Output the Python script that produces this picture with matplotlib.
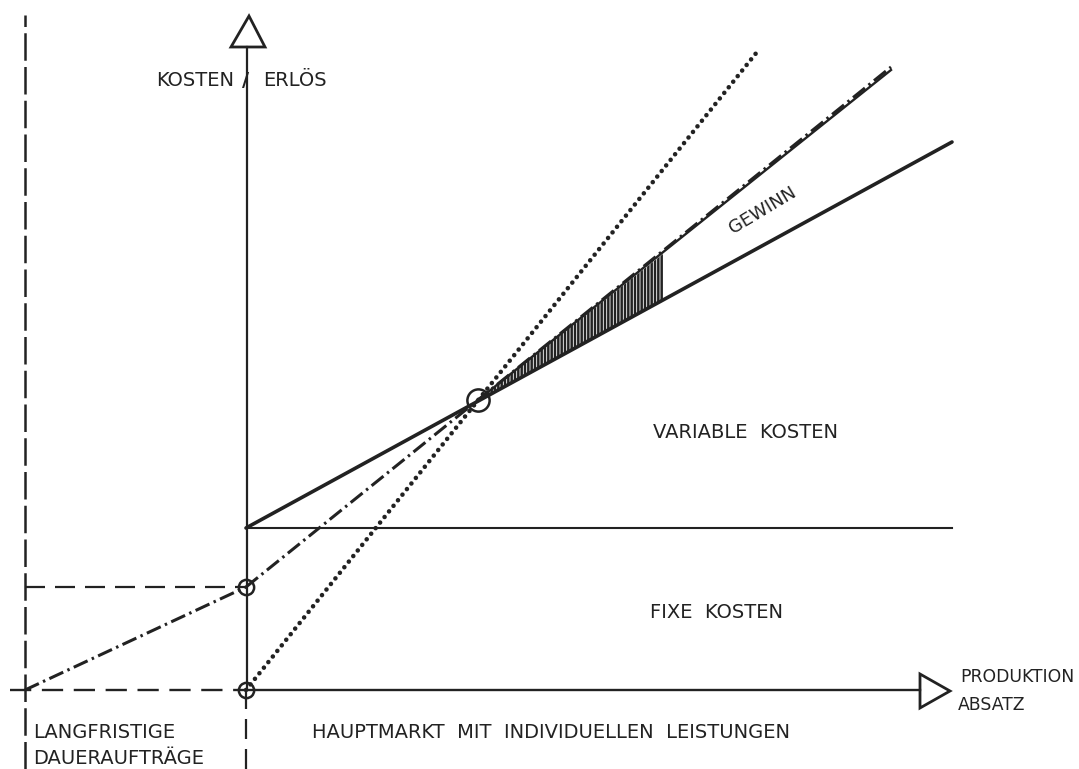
import numpy as np
import matplotlib.pyplot as plt
from matplotlib.patches import Polygon

# Zeichnungseinheiten, Ursprung = Schnittpunkt der Achsen
grenze_dauer = -221      # linke Grenze der Dauerauftraege
menge_ende = 674         # Ende der Mengenachse (Pfeilbasis)
kosten_ende = 643        # Ende der Kostenachse (Pfeilbasis)

fixkosten = 162
fix_x = [0, 706]
kosten_x = [0, 706]
kosten_y = [162, 548]

erloes_dauer_x = [-221, 0]
erloes_dauer_y = [0, 103]

erloes_haupt_x = [0, 645]
erloes_haupt_y = [103, 623]

gewinn_x = [232, 645]
gewinn_y = [290, 620]

erloes_ohne_x = [0, 511]
erloes_ohne_y = [0, 638]

break_even = (232, 290)
hatch_x = [232, 417]
hatch_unten = [290, 390]
hatch_oben = [290, 436]

ink = '#222222'
plt.rcParams['font.family'] = ['DejaVu Sans']
plt.rcParams['hatch.linewidth'] = 1.8
plt.rcParams['hatch.color'] = ink

fig = plt.figure(figsize=(10.79, 7.69), dpi=100)
ax = fig.add_axes([0, 0, 1, 1])
ax.set_xlim(-246, 833)
ax.set_ylim(-79, 690)
ax.axis('off')

# Achsen
ax.plot([1, 1], [0, kosten_ende], color=ink, lw=1.6)
ax.plot([0, 0], [-79, 0], color=ink, lw=1.6, linestyle=(0, (9, 4.5)))
ax.plot([0, menge_ende], [0, 0], color=ink, lw=1.7)
ax.plot([-236, 0], [0, 0], color=ink, lw=1.7, linestyle=(0, (9, 4.5)))
ax.plot([grenze_dauer, grenze_dauer], [-79, 675], color=ink, lw=1.8,
        linestyle=(0, (11, 2.5)))
ax.plot([grenze_dauer, 0], [erloes_dauer_y[1]] * 2, color=ink, lw=1.6,
        linestyle=(0, (9, 4.5)))

# Pfeilspitzen
ax.add_patch(Polygon([[-15, kosten_ende], [19, kosten_ende], [3, kosten_ende + 31]],
                     closed=True, fill=False, edgecolor=ink, lw=2))
ax.add_patch(Polygon([[menge_ende, 16], [menge_ende, -18], [menge_ende + 30, -1]],
                     closed=True, fill=False, edgecolor=ink, lw=2))

# Kosten
ax.plot(fix_x, [fixkosten] * 2, color=ink, lw=1.5)
ax.plot(kosten_x, kosten_y, color=ink, lw=2.6, solid_capstyle='round')

# Gewinnzone schraffiert
ax.fill_between(hatch_x, hatch_unten, hatch_oben, facecolor='white',
                edgecolor=ink, hatch='|||||', lw=0)

# Erloese
dashdot = (0, (5, 1.5, 0.8, 1.5))
ax.plot(erloes_dauer_x, erloes_dauer_y, color=ink, lw=2.2, linestyle=dashdot)
ax.plot(erloes_haupt_x, erloes_haupt_y, color=ink, lw=2.2, linestyle=dashdot)
ax.plot(gewinn_x, gewinn_y, color=ink, lw=1.7)
ax.plot(erloes_ohne_x, erloes_ohne_y, color=ink, lw=3.3,
        linestyle=(0, (0.01, 1.55)), dash_capstyle='round')

# Kreise
ax.plot([0, 0], [0, erloes_dauer_y[1]], linestyle='none', marker='o',
        markersize=11, markerfacecolor='none', markeredgecolor=ink, mew=1.8)
ax.plot(*break_even, marker='o', markersize=16, markerfacecolor='none',
        markeredgecolor=ink, mew=1.8)

# Beschriftung
fs = 14
ax.text(-12, 609, 'KOSTEN', ha='right', va='center', fontsize=fs, color=ink)
ax.text(0, 609, '/', ha='center', va='center', fontsize=fs, color=ink,
        fontweight='bold')
ax.text(17, 609, 'ERLÖS', ha='left', va='center', fontsize=fs, color=ink)
ax.text(517, 480, 'GEWINN', ha='center', va='center', fontsize=fs - 1,
        color=ink, rotation=31)
ax.text(407, 258, 'VARIABLE  KOSTEN', ha='left', va='center', fontsize=fs, color=ink)
ax.text(404, 78, 'FIXE  KOSTEN', ha='left', va='center', fontsize=fs, color=ink)
ax.text(714, 13, 'PRODUKTION', ha='left', va='center', fontsize=12.4, color=ink)
ax.text(712, -15, 'ABSATZ', ha='left', va='center', fontsize=12.4, color=ink)
ax.text(66, -42, 'HAUPTMARKT  MIT  INDIVIDUELLEN  LEISTUNGEN', ha='left',
        va='center', fontsize=fs, color=ink)
ax.text(-213, -43, 'LANGFRISTIGE', ha='left', va='center', fontsize=fs, color=ink)
ax.text(-213, -69, 'DAUERAUFTRÄGE', ha='left', va='center', fontsize=fs, color=ink)

fig.savefig('out.png', dpi=100, facecolor='white')
